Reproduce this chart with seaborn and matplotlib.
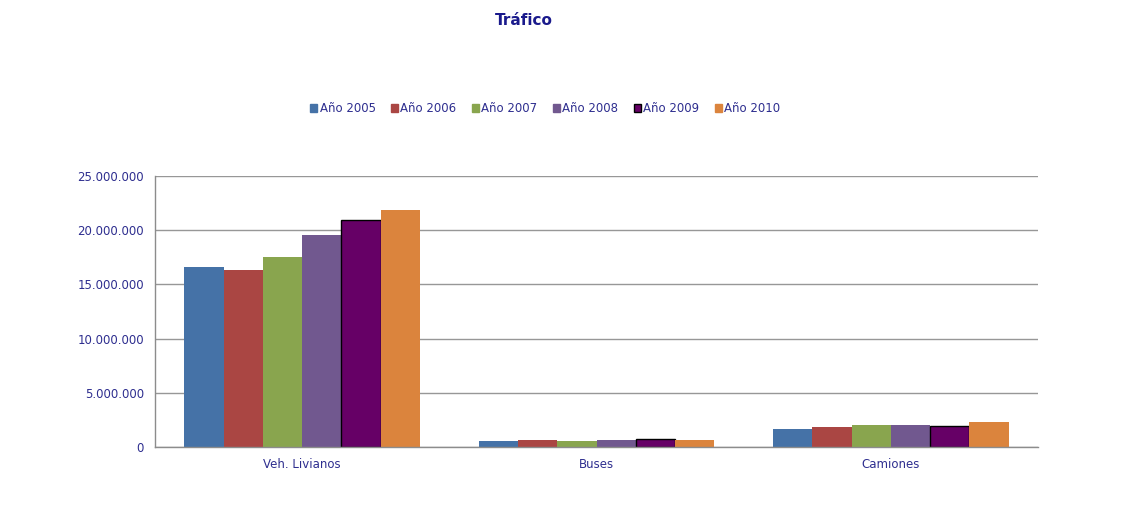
import pandas as pd
import matplotlib
matplotlib.use("Agg")
import matplotlib.pyplot as plt
import seaborn as sns
from matplotlib.ticker import FuncFormatter, FixedLocator

# values
categorias = ["Veh. Livianos", "Buses", "Camiones"]
anios = ["Año 2005", "Año 2006", "Año 2007", "Año 2008", "Año 2009", "Año 2010"]
trafico_2005 = [16600000, 550000, 1620000]
trafico_2006 = [16350000, 670000, 1810000]
trafico_2007 = [17550000, 580000, 1990000]
trafico_2008 = [19530000, 650000, 2060000]
trafico_2009 = [20900000, 700000, 1970000]
trafico_2010 = [21900000, 690000, 2330000]
colores = ["#4572A7", "#AA4643", "#89A54E", "#71588F", "#660066", "#DB843D"]

series = [trafico_2005, trafico_2006, trafico_2007, trafico_2008, trafico_2009, trafico_2010]
rows = []
for anio, vals in zip(anios, series):
    for cat, v in zip(categorias, vals):
        rows.append({"categoria": cat, "anio": anio, "trafico": v})
df = pd.DataFrame(rows)

sns.set_style("white")
plt.rcParams['font.family'] = ['DejaVu Sans']
txt = "#2E2E8F"

fig = plt.figure(figsize=(11.24, 5.31), dpi=100)
ax = fig.add_axes([0.1379, 0.1582, 0.7856, 0.5104])

sns.barplot(data=df, x="categoria", y="trafico", hue="anio", order=categorias,
            hue_order=anios, palette=colores, width=0.8, saturation=1,
            ax=ax, legend=False)

# bar edges: black for 2009, none otherwise
for cont, anio in zip(ax.containers, anios):
    for bar in cont:
        if anio == "Año 2009":
            bar.set_edgecolor("black")
            bar.set_linewidth(1.0)
        else:
            bar.set_edgecolor("none")

ax.set_ylim(0, 25000000)
ax.set_xlim(-0.5, 2.5)
ax.set_yticks(range(0, 25000001, 5000000))
ax.yaxis.set_major_formatter(FuncFormatter(lambda v, p: f"{int(v):,}".replace(",", ".")))
ax.yaxis.grid(True, color="#979797", linewidth=1)
ax.set_axisbelow(True)
ax.set_xlabel("")
ax.set_ylabel("")

for s in ["top", "right"]:
    ax.spines[s].set_visible(False)
for s in ["left", "bottom"]:
    ax.spines[s].set_color("#8C8C8C")
    ax.spines[s].set_linewidth(1)

ax.tick_params(axis="y", length=4, color="#8C8C8C", labelsize=8.5, labelcolor=txt, pad=4)
ax.tick_params(axis="x", which="major", length=0, labelsize=8.5, labelcolor=txt, pad=8)
ax.xaxis.set_minor_locator(FixedLocator([-0.5, 0.5, 1.5, 2.5]))
ax.tick_params(axis="x", which="minor", length=5, color="#8C8C8C", direction="out")

handles = [plt.Rectangle((0, 0), 1, 1, facecolor=c,
                         edgecolor="black" if a == "Año 2009" else c)
           for c, a in zip(colores, anios)]
leg = fig.legend(handles, anios, loc="center", bbox_to_anchor=(0.485, 0.795), ncol=6,
                 frameon=False, fontsize=8.5, handlelength=0.6, handleheight=0.6,
                 handletextpad=0.2, columnspacing=1.3)
for t in leg.get_texts():
    t.set_color(txt)

fig.text(0.466, 0.962, "Tráfico", ha="center", va="center", fontsize=11,
         fontweight="bold", color="#1A1A8C")

fig.savefig("out.png", dpi=100, facecolor="white")
